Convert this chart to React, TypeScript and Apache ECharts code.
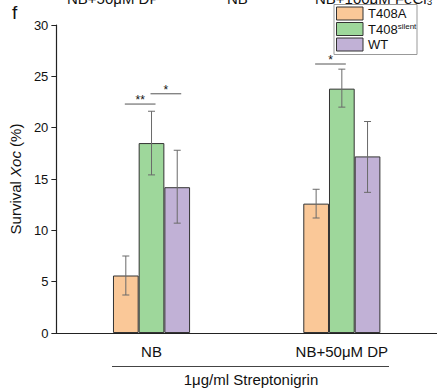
import React, { useEffect, useRef } from "react";
import * as echarts from "echarts";

const categories = ["NB", "NB+50μM DP"];
const seriesNames = ["T408A", "T408silent", "WT"];
const meanT408A = [5.6, 12.6];
const meanT408silent = [18.5, 23.8];
const meanWT = [14.2, 17.2];
const errLow = [
  [3.7, 15.4, 10.7],
  [11.2, 22.0, 13.7],
];
const errHigh = [
  [7.5, 21.6, 17.8],
  [14.0, 25.7, 20.6],
];
// [category, fromSeries, toSeries, level, label]
const sigMarks: [number, number, number, number, string][] = [
  [0, 0, 1, 22.3, "**"],
  [0, 1, 2, 23.3, "*"],
  [1, 0, 1, 26.2, "*"],
];

const colors = ["#FAC898", "#9ED79B", "#C1B1D6"];
const BAR_W = 25.7;

export default function App() {
  const ref = useRef<HTMLDivElement>(null);
  useEffect(() => {
    if (!ref.current) return;
    const chart = echarts.init(ref.current, null, { renderer: "svg" });
    const means = [meanT408A, meanT408silent, meanWT];
    const errData: number[][] = [];
    categories.forEach((_, c) => {
      for (let s = 0; s < 3; s++) errData.push([c, s, errLow[c][s], errHigh[c][s]]);
    });
    const font = "Liberation Sans, Arial, sans-serif";
    chart.setOption({
      animation: false,
      grid: { left: 52, right: 0, top: 25, bottom: 56 },
      xAxis: {
        type: "category",
        data: categories,
        axisLine: { lineStyle: { color: "#222", width: 1.2 } },
        axisTick: { show: false },
        axisLabel: { color: "#111", fontSize: 15, fontFamily: font, margin: 11 },
      },
      yAxis: {
        type: "value",
        min: 0,
        max: 30,
        interval: 5,
        splitLine: { show: false },
        axisLine: { show: true, lineStyle: { color: "#222", width: 1.2 } },
        axisTick: { show: true, length: 5, lineStyle: { color: "#222" } },
        axisLabel: { color: "#111", fontSize: 13, fontFamily: font, margin: 8 },
        name: "{a|Survival }{b|Xoc}{a| (%)}",
        nameLocation: "middle",
        nameGap: 28,
        nameRotate: 90,
        nameTextStyle: {
          rich: {
            a: { fontSize: 15, fontFamily: font, color: "#111" },
            b: { fontSize: 15, fontFamily: font, color: "#111", fontStyle: "italic" },
          },
        },
      },
      legend: { show: false },
      series: [
        ...seriesNames.map((n, i) => ({
          name: n,
          type: "bar",
          data: means[i],
          barWidth: BAR_W,
          barGap: "0%",
          itemStyle: { color: colors[i], borderColor: "#333", borderWidth: 1 },
        })),
        {
          type: "custom",
          z: 10,
          data: errData,
          renderItem: (params: any, api: any) => {
            const c = api.value(0);
            const s = api.value(1);
            const lo = api.coord([c, api.value(2)]);
            const hi = api.coord([c, api.value(3)]);
            const x = lo[0] + (s - 1) * BAR_W;
            const cap = 3.5;
            const st = { stroke: "#6a6a6a", lineWidth: 1 };
            return {
              type: "group",
              children: [
                { type: "line", shape: { x1: x, y1: lo[1], x2: x, y2: hi[1] }, style: st },
                { type: "line", shape: { x1: x - cap, y1: lo[1], x2: x + cap, y2: lo[1] }, style: st },
                { type: "line", shape: { x1: x - cap, y1: hi[1], x2: x + cap, y2: hi[1] }, style: st },
              ],
            };
          },
        },
        {
          type: "custom",
          z: 10,
          data: sigMarks.map((m) => [m[0], m[1], m[2], m[3]]),
          renderItem: (params: any, api: any) => {
            const c = api.value(0);
            const p = api.coord([c, api.value(3)]);
            const x1 = p[0] + (api.value(1) - 1) * BAR_W - 1;
            const x2 = p[0] + (api.value(2) - 1) * BAR_W + 4;
            const label = sigMarks[params.dataIndex][4];
            return {
              type: "group",
              children: [
                { type: "line", shape: { x1, y1: p[1], x2, y2: p[1] }, style: { stroke: "#555", lineWidth: 1 } },
                {
                  type: "text",
                  style: {
                    text: label,
                    x: (x1 + x2) / 2,
                    y: p[1] + 2,
                    textAlign: "center",
                    textVerticalAlign: "bottom",
                    fontSize: 12,
                    fontFamily: font,
                    fill: "#111",
                  },
                },
              ],
            };
          },
        },
      ],
      graphic: [
        { type: "text", x: 12, y: 3, style: { text: "f", fontSize: 19, fontFamily: font, fill: "#111", textVerticalAlign: "top" } },
        { type: "text", x: 67, y: 5.5, style: { text: "NB+50μM DP", fontSize: 15, fontFamily: font, fill: "#111", textVerticalAlign: "bottom" } },
        { type: "text", x: 227, y: 5.5, style: { text: "NB", fontSize: 15, fontFamily: font, fill: "#111", textVerticalAlign: "bottom" } },
        { type: "text", x: 315, y: 5.5, style: { text: "NB+100μM FeCl₃", fontSize: 15, fontFamily: font, fill: "#111", textVerticalAlign: "bottom" } },
        { type: "line", shape: { x1: 112, y1: 366.5, x2: 389, y2: 366.5 }, style: { stroke: "#444", lineWidth: 1 } },
        {
          type: "text",
          x: 251,
          y: 379,
          style: { text: "1μg/ml Streptonigrin", fontSize: 15, fontFamily: font, fill: "#111", textAlign: "center", textVerticalAlign: "middle" },
        },
        // legend
        { type: "rect", shape: { x: 334, y: 4.5, width: 83, height: 50 }, style: { fill: "#fff", stroke: "#999", lineWidth: 1 } },
        ...seriesNames.map((n, i) => ({
          type: "rect",
          shape: { x: 336.5, y: 7 + i * 15.5, width: 26.5, height: 13 },
          style: { fill: colors[i], stroke: "#333", lineWidth: 1 },
        })),
        { type: "text", x: 368, y: 13.5, style: { text: "T408A", fontSize: 13, fontFamily: font, fill: "#111", textVerticalAlign: "middle" } },
        {
          type: "text",
          x: 368,
          y: 29,
          style: {
            text: "{a|T408}{b|silent}",
            fontFamily: font,
            fill: "#111",
            textVerticalAlign: "middle",
            rich: {
              a: { fontSize: 13, fontFamily: font, fill: "#111" },
              b: { fontSize: 8, fontFamily: font, fill: "#111", verticalAlign: "top", padding: [0, 0, 6, 0] },
            },
          },
        },
        { type: "text", x: 368, y: 44.5, style: { text: "WT", fontSize: 13, fontFamily: font, fill: "#111", textVerticalAlign: "middle" } },
      ],
    });
    return () => chart.dispose();
  }, []);
  return <div ref={ref} style={{ position: "absolute", left: 0, top: 0, width: 437, height: 389 }} />;
}
